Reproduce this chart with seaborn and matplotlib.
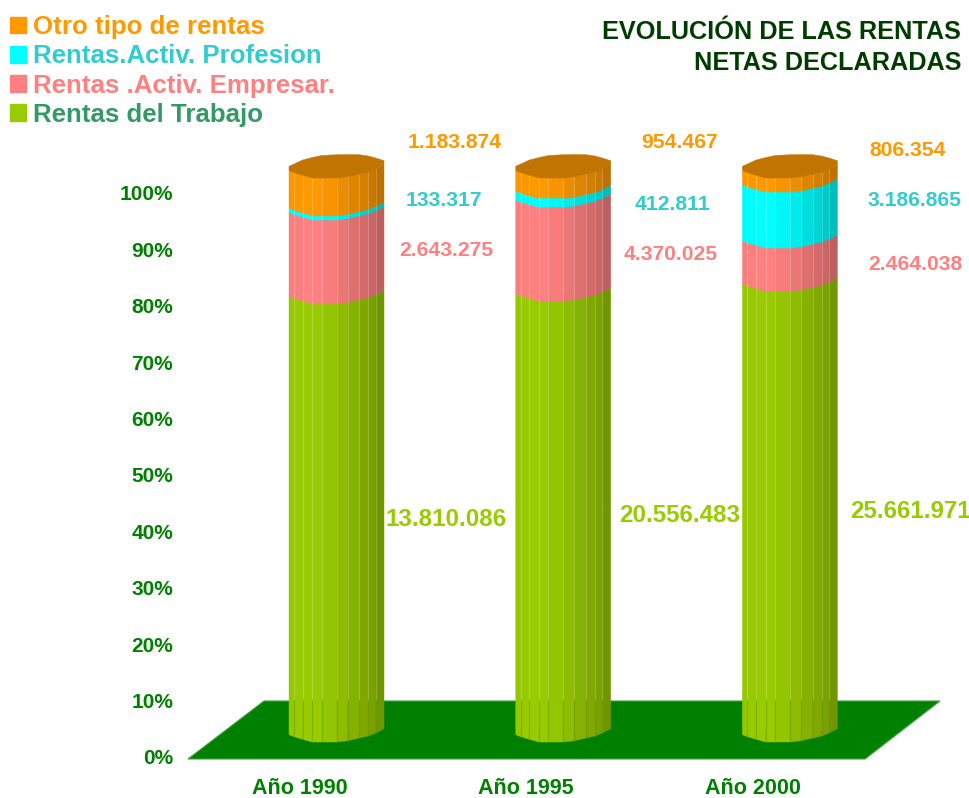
import numpy as np
import pandas as pd
import seaborn as sns
import matplotlib.pyplot as plt
from matplotlib.colors import to_rgb
from matplotlib.patches import Patch

# Data
years = ['Año 1990', 'Año 1995', 'Año 2000']
trabajo = [13810086, 20556483, 25661971]
empresar = [2643275, 4370025, 2464038]
profesion = [133317, 412811, 3186865]
otros = [1183874, 954467, 806354]

names = ['Rentas del Trabajo', 'Rentas .Activ. Empresar.', 'Rentas.Activ. Profesion', 'Otro tipo de rentas']
colors = ['#99CC00', '#FF8080', '#00FFFF', '#FF9900']
label_colors = ['#99CC00', '#FF8080', '#33CCCC', '#FF9900']
legend_colors = ['#339966', '#FF8080', '#33CCCC', '#FF9900']

sns.set_theme(style='white')
plt.rcParams['font.family'] = ['Liberation Sans', 'DejaVu Sans']
plt.rcParams['font.weight'] = 'bold'

W, H = 969, 798
fig = plt.figure(figsize=(W / 100, H / 100), dpi=100)
# axes: 0% sits at pixel row 757, 100% at row 193
ax = fig.add_axes([178 / W, 1 - 757 / H, (W - 178) / W, 757 / H])

PCT = 5.64  # pixels per percent
UNIT = 226.7  # pixels per category
X0 = 336.5


def px_x(x):
    return (x - X0) / UNIT


def px_y(y):
    return (757 - y) / PCT


series = np.array([trabajo, empresar, profesion, otros], dtype=float)
shares = series / series.sum(axis=0) * 100
base = (757 - 742) / PCT
tops = base + np.vstack([np.zeros(3), shares.cumsum(axis=0)])

# Floor
ax.fill([px_x(188), px_x(865), px_x(940), px_x(264)],
        [px_y(759), px_y(759), px_y(701), px_y(701)],
        color='#008000', lw=0.8, ec='#3FA03F', clip_on=False, zorder=1)

# Flat stacked bars underneath the cylinder facets
lift = 13 / PCT
for i, name in enumerate(names):
    df = pd.DataFrame({'year': years, 'share': shares[i]})
    sns.barplot(data=df, x='year', y='share', color=colors[i], saturation=1,
                errorbar=None, width=0.38, bottom=tops[i] + lift, ax=ax, zorder=2)

# Cylinder look
bar_w = 95 / UNIT
u = np.array([0, .053, .144, .245, .344, .502, .618, .74, .835, .913, 1.0])
front = np.array([7.3, 5.3, 2.7, 0, 0, 0, 1.3, 4, 6, 9, 13.3]) / PCT
back = np.array([11.7, 14, 18, 20.5, 22.5, 23.3, 23.5, 23.3, 22, 20, 17.3]) / PCT
shade = np.array([.98, .99, 1, 1, .97, .92, .87, .83, .79, .74])
floor_back = px_y(700)

for k in range(3):
    xs = k + (u - 0.5) * bar_w
    for i in range(4):
        for j in range(10):
            c = np.array(to_rgb(colors[i])) * shade[j]
            ax.fill([xs[j], xs[j + 1], xs[j + 1], xs[j]],
                    [tops[i, k] + front[j], tops[i, k] + front[j + 1],
                     tops[i + 1, k] + front[j + 1], tops[i + 1, k] + front[j]],
                    color=c, lw=0.3, ec=c, zorder=3, clip_on=False)
    for j in range(1, 10):
        ax.plot([xs[j], xs[j]], [floor_back, tops[4, k] + front[j]],
                color='white', alpha=0.22, lw=0.8, zorder=4, clip_on=False)
        ax.plot([xs[j], xs[j]], [base + front[j], floor_back],
                color='#5F9900', alpha=0.5, lw=0.8, zorder=4, clip_on=False)
    # lid
    ax.fill(np.r_[xs, xs[::-1]], np.r_[tops[4, k] + front, tops[4, k] + back[::-1]],
            color='#C27400', lw=0.3, zorder=5, clip_on=False)

ax.set_xlim(px_x(178), px_x(W))
ax.set_ylim(0, 757 / PCT)
ax.set_xlabel('')
ax.set_ylabel('')
ax.set_yticks(range(0, 101, 10))
ax.set_yticklabels([f'{v}%' for v in range(0, 101, 10)], color='#008000', fontsize=15, fontweight='bold')
# the year labels sit on the front edge of the floor, left of the bars
ax.set_xticks(np.arange(3) - 37 / UNIT)
ax.set_xticklabels(years, color='#008000', fontsize=15.5, fontweight='bold')
ax.tick_params(axis='y', length=0, pad=3.5)
ax.tick_params(axis='x', length=0, pad=15)
sns.despine(ax=ax, left=True, bottom=True)


def fmt(v):
    return f'{v:,}'.replace(',', '.')


# Value labels, pixel centres of each label
vals = [trabajo, empresar, profesion, otros]
label_x = [[446.5, 679.5, 910], [446.5, 671, 915], [444, 672.5, 915], [455, 679.5, 908]]
label_y = [[519, 516, 511], [251, 255, 264], [200, 204, 201], [142, 143, 151]]
for i in range(4):
    for k in range(3):
        fig.text(label_x[i][k] / W, 1 - label_y[i][k] / H, fmt(vals[i][k]),
                 color=label_colors[i], ha='center', va='center',
                 fontsize=17.4 if i == 0 else 15.2, fontweight='bold')

# Title
fig.text(961 / W, 1 - 47.5 / H, 'EVOLUCIÓN DE LAS RENTAS\nNETAS DECLARADAS', color='#003C00',
         ha='right', va='center', fontsize=18.2, fontweight='bold', linespacing=1.37)

# Legend
order = [3, 2, 1, 0]
handles = [Patch(color=colors[i], label=names[i]) for i in order]
leg = fig.legend(handles=handles, loc='upper left', bbox_to_anchor=(5 / W, 1 - 10 / H), frameon=False,
                 handlelength=0.62, handleheight=0.62, handletextpad=0.28,
                 labelspacing=0.2, borderaxespad=0, borderpad=0.2,
                 labelcolor=[legend_colors[i] for i in order],
                 prop={'weight': 'bold', 'size': 18.6})

fig.savefig('out.png', dpi=100)
